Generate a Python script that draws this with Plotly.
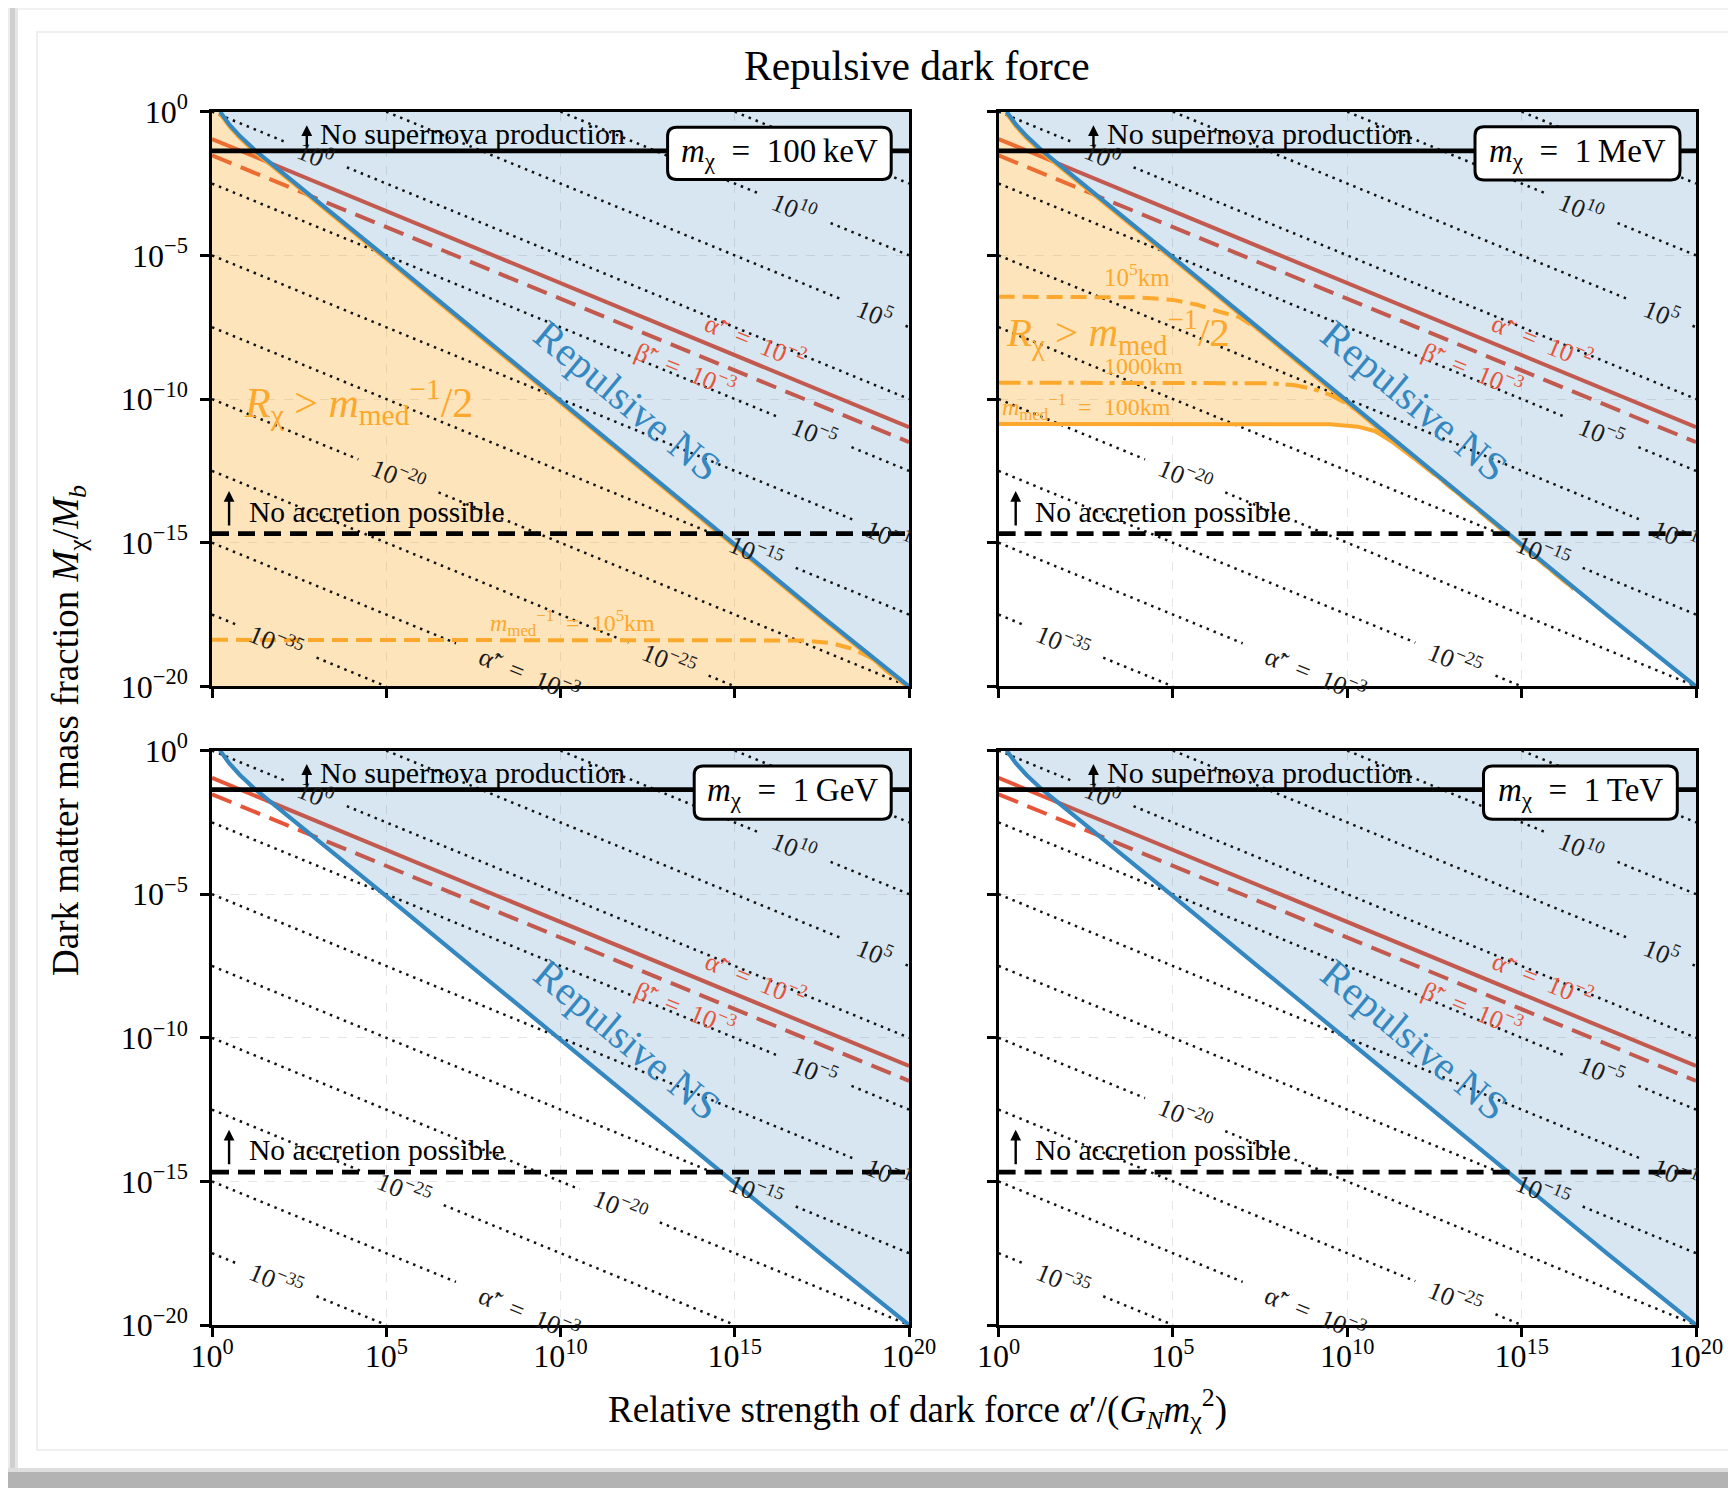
import plotly.graph_objects as go

W, H = 1736, 1488
OFF = 8            # the page body margin shifts the figure by this many pixels
SERIF = "Liberation Serif"

# ---------------- data (all values in log10 units) ----------------
mass_labels = ["100\u2009keV", "1\u2009MeV", "1\u2009GeV", "1\u2009TeV"]
x_tick_exps = [0, 5, 10, 15, 20]
y_tick_exps = [0, -5, -10, -15, -20]

# Repulsive NS boundary
blue_lx = [0.23, 0.5, 0.8, 1.25, 2.0, 3.0, 4.0, 5.0, 7.5, 10.0, 12.5, 15.0, 17.5, 20.0]
blue_ly = [0.0, -0.45, -0.85, -1.36, -2.10, -3.08, -4.07, -5.07, -7.57, -10.07, -12.57, -15.07, -17.56, -20.0]

# alpha' = 1e-2 (solid) and beta' = 1e-3 (dashed) lines
red_alpha_lx = [0, 20]
red_alpha_ly = [-0.95, -10.98]
red_beta_lx = [0, 20]
red_beta_ly = [-1.52, -11.5]

supernova_ly = -1.36
accretion_ly = -14.68

# dotted contours of alpha-tilde' (levels, log10)
contour_levels = [-40, -35, -30, -25, -20, -15, -10, -5, 0, 5, 10, 15, 20]

ALPHA_T = "\u03b1\u0303\u2032"
BETA_T = "\u03b2\u0303\u2032"
EQ = "\u2002=\u2002"

# contour labels: (level, lx centre, text, half gap in lx)
labels_common = [
    (0, 2.97, "10<sup>0</sup>", 0.9),
    (10, 16.7, "10<sup>10</sup>", 1.05),
    (5, 19.0, "10<sup>5</sup>", 0.9),
    (-5, 17.3, "10<sup>\u22125</sup>", 1.05),
    (-10, 19.4, "10<sup>\u22121</sup>", 0.95),
    (-15, 15.6, "10<sup>\u221215</sup>", 1.15),
    (-35, 1.85, "10<sup>\u221235</sup>", 1.15),
    (-30, 9.1, ALPHA_T + EQ + "10<sup>\u22123</sup>", 2.1),
]
labels_std = [(-20, 5.35, "10<sup>\u221220</sup>", 1.15), (-25, 13.1, "10<sup>\u221225</sup>", 1.15)]
labels_gev = [(-25, 5.5, "10<sup>\u221225</sup>", 1.15), (-20, 11.7, "10<sup>\u221220</sup>", 1.15)]
panel_labels = [labels_common + labels_std, labels_common + labels_std,
                labels_common + labels_gev, labels_common + labels_std]

# orange m_med^-1 curves
o100keV_1e5_lx = [0, 17.0, 17.8, 18.4, 18.9, 19.4, 20.0]
o100keV_1e5_ly = [-18.38, -18.40, -18.50, -18.70, -19.0, -19.5, -20.0]

o1MeV_1e5_lx = [0, 4.0, 5.0, 5.7, 6.3, 6.9, 7.5, 10.0, 12.5, 15.0, 16.5]
o1MeV_1e5_ly = [-6.44, -6.46, -6.55, -6.72, -6.95, -7.15, -7.62, -10.11, -12.61, -15.11, -16.61]
o1MeV_1000_lx = [0, 7.8, 8.5, 9.0, 9.5, 10.0, 10.5, 11.0, 12.5, 15.0, 16.5]
o1MeV_1000_ly = [-9.43, -9.45, -9.52, -9.64, -9.85, -10.17, -10.60, -11.10, -12.61, -15.11, -16.61]
o1MeV_100_lx = [0, 9.5, 10.3, 10.8, 11.3, 12.0, 12.6, 13.5, 15.0, 16.5]
o1MeV_100_ly = [-10.87, -10.88, -10.96, -11.12, -11.50, -12.13, -12.70, -13.60, -15.11, -16.61]
merge_lx_1MeV = 12.6

# ---------------- styles ----------------
BLUE = "#3587c0"
BLUE_FILL = "rgba(31,119,180,0.18)"
RED = "#e6553a"
ORANGE = "#fca82c"
ORANGE_FILL = "rgba(252,165,30,0.30)"


def X(px):
    return (px - OFF) / W


def Y(py):
    return 1 - (py - OFF) / H


COLS = [(212, 909), (998.6, 1696)]
ROWS = [(111.7, 686.4), (750.6, 1325)]
XD = [[X(COLS[c][0]), X(COLS[c][1])] for c in (0, 1, 0, 1)]
YD = [[Y(ROWS[r][1]), Y(ROWS[r][0])] for r in (0, 0, 1, 1)]

LINE_ANG = 22.4   # screen angle of slope -1/2 lines
BLUE_ANG = 39.5   # screen angle of slope -1 lines


def p(v):
    return [None if a is None else 10.0 ** a for a in v]


def ax_names(i):
    s = "" if i == 0 else str(i + 1)
    return "x" + s, "y" + s, "xaxis" + s, "yaxis" + s


fig = go.Figure()
annotations = []
shapes = []


def add_line(i, lx, ly, color, width, dash="solid", fill=None, fillcolor=None, mode="lines"):
    xr, yr, _, _ = ax_names(i)
    fig.add_trace(go.Scatter(x=p(lx), y=p(ly), mode=mode, xaxis=xr, yaxis=yr,
                             line=dict(color=color, width=width, dash=dash),
                             fill=fill, fillcolor=fillcolor, hoverinfo="skip",
                             showlegend=False))


def contour_xy(level, gaps):
    lo, hi = max(0.0, level), min(20.0, level + 40.0)
    if hi - lo <= 0:
        return [], []
    segs = [[lo, hi]]
    for c, hw in gaps:
        a, b = c - hw, c + hw
        new = []
        for s0, s1 in segs:
            if b <= s0 or a >= s1:
                new.append([s0, s1])
            else:
                if a > s0:
                    new.append([s0, a])
                if b < s1:
                    new.append([b, s1])
        segs = new
    xs, ys = [], []
    for s0, s1 in segs:
        xs += [s0, s1, None]
        ys += [(level - s0) / 2, (level - s1) / 2, None]
    return xs, ys


for i in range(4):
    xr, yr, xa, ya = ax_names(i)
    # red lines (below the fills so that they get tinted)
    add_line(i, red_alpha_lx, red_alpha_ly, RED, 4)
    add_line(i, red_beta_lx, red_beta_ly, RED, 4, dash="21px,10px")

    # fills
    if i == 0:
        fx = [0] + blue_lx + [20, 0]
        fy = [0] + blue_ly + [-20, -20]
        add_line(i, fx, fy, "rgba(0,0,0,0)", 0, fill="toself", fillcolor=ORANGE_FILL)
    if i == 1:
        bx = [a for a in blue_lx if a < merge_lx_1MeV]
        by = [b for a, b in zip(blue_lx, blue_ly) if a < merge_lx_1MeV]
        sx = [a for a in o1MeV_100_lx if a <= merge_lx_1MeV][::-1]
        sy = [b for a, b in zip(o1MeV_100_lx, o1MeV_100_ly) if a <= merge_lx_1MeV][::-1]
        add_line(i, [0] + bx + sx, [0] + by + sy, "rgba(0,0,0,0)", 0, fill="toself",
                 fillcolor=ORANGE_FILL)
    add_line(i, blue_lx + [20], blue_ly + [0], "rgba(0,0,0,0)", 0, fill="toself",
             fillcolor=BLUE_FILL)

    # contours
    cx, cy = [], []
    gaps_by_level = {}
    for lev, c, txt, hw in panel_labels[i]:
        gaps_by_level.setdefault(lev, []).append((c, hw))
    for lev in contour_levels:
        a, b = contour_xy(lev, gaps_by_level.get(lev, []))
        cx += a
        cy += b
    add_line(i, cx, cy, "#111111", 2.5, dash="2.5px,5px")

    # orange curves
    if i == 0:
        add_line(i, [a for a in blue_lx], [b - 0.05 for b in blue_ly], ORANGE, 4.5)
        add_line(i, o100keV_1e5_lx, o100keV_1e5_ly, ORANGE, 4, dash="16px,8px")
    if i == 1:
        ex = [a for a in blue_lx if a <= merge_lx_1MeV + 0.5]
        ey = [b - 0.05 for a, b in zip(blue_lx, blue_ly) if a <= merge_lx_1MeV + 0.5]
        add_line(i, ex, ey, ORANGE, 4.5)
        add_line(i, o1MeV_1e5_lx, o1MeV_1e5_ly, ORANGE, 4, dash="16px,8px")
        add_line(i, o1MeV_1000_lx, o1MeV_1000_ly, ORANGE, 4, dash="22px,7px,5px,7px")
        add_line(i, o1MeV_100_lx, o1MeV_100_ly, ORANGE, 4)

    # blue boundary
    add_line(i, blue_lx, blue_ly, BLUE, 4.2)

    # black horizontal lines
    add_line(i, [0, 20], [supernova_ly, supernova_ly], "#000000", 4.8)
    add_line(i, [0, 20], [accretion_ly, accretion_ly], "#000000", 4.8, dash="17px,9px")

    # ---- axes ----
    left = i in (0, 2)
    bottom = i in (2, 3)
    common = dict(showline=True, linecolor="#000", linewidth=2.5, mirror=True,
                  ticks="outside", ticklen=9, tickwidth=2.5, tickcolor="#000",
                  tickfont=dict(family=SERIF, size=32, color="#000"),
                  showgrid=True, gridcolor="rgba(0,0,0,0.10)", gridwidth=1,
                  griddash="dash", zeroline=False, automargin=False)
    fig.layout[xa] = dict(type="log", range=[0, 20], domain=XD[i], anchor=yr,
                          tickvals=[10.0 ** e for e in x_tick_exps],
                          ticktext=["10<sup>%d</sup>" % e for e in x_tick_exps],
                          showticklabels=bottom, ticklabelstandoff=-8, **common)
    fig.layout[ya] = dict(type="log", range=[-20, 0], domain=YD[i], anchor=xr,
                          tickvals=[10.0 ** e for e in y_tick_exps],
                          ticktext=["10<sup>%s</sup>" % (str(e).replace("-", "\u2212")) for e in y_tick_exps],
                          showticklabels=left, ticklabelstandoff=6, **common)

    # ---- text ----
    def ann(x, y, text, size, color="#000", angle=0, xanchor="center", yanchor="middle"):
        annotations.append(dict(x=x, y=y, xref=xr, yref=yr, text=text, showarrow=False,
                                textangle=angle, xanchor=xanchor, yanchor=yanchor,
                                font=dict(family=SERIF, size=size, color=color)))

    for lev, c, txt, hw in panel_labels[i]:
        ann(c, (lev - c) / 2, txt, 26, color="#1a1a1a", angle=LINE_ANG)

    ann(3.05, -0.75, "No supernova production", 30, xanchor="left")
    ann(1.0, -13.92, "No accretion possible", 29.5, xanchor="left")
    for (hx, hy, L) in [(2.72, -0.47, 23), (0.49, -13.2, 36)]:
        annotations.append(dict(x=hx, y=hy, xref=xr, yref=yr, ax=0, ay=L, text="",
                                showarrow=True, arrowhead=2, arrowsize=0.9, arrowwidth=2.4,
                                arrowcolor="#000"))
    ann(11.93, -10.07, "Repulsive NS", 41, color=BLUE, angle=BLUE_ANG)
    ann(15.6, -7.95, ALPHA_T + EQ + "10<sup>\u22122</sup>", 26, color=RED, angle=LINE_ANG)
    ann(13.58, -8.95, BETA_T + EQ + "10<sup>\u22123</sup>", 26, color=RED, angle=LINE_ANG)

    if i == 0:
        ann(4.21, -10.1, "<i>R</i><sub>\u03c7</sub> > <i>m</i><sub>med</sub><sup>\u22121</sup>/2", 42, color=ORANGE)
        ann(10.35, -17.8, "<i>m</i><sub>med</sub><sup>\u22121</sup>" + EQ + "10<sup>5</sup>km", 24, color=ORANGE)
    if i == 1:
        ann(3.43, -7.68, "<i>R</i><sub>\u03c7</sub> > <i>m</i><sub>med</sub><sup>\u22121</sup>/2", 41, color=ORANGE)
        ann(3.98, -5.7, "10<sup>5</sup>km", 25, color=ORANGE)
        ann(4.16, -8.86, "1000km", 24, color=ORANGE)
        ann(2.53, -10.27, "<i>m</i><sub>med</sub><sup>\u22121</sup>" + EQ + "100km", 24, color=ORANGE)

# ---- mass boxes (rounded) ----
boxes_px = [(667.6, 127.3, 891.2, 179.4), (1475, 126.7, 1680, 180),
            (694.2, 766, 891.2, 819.2), (1483.5, 766, 1677.3, 819.2)]


def P(px, py):
    return "%.5f,%.5f" % (X(px), Y(py))


for i, (x0, y0, x1, y1) in enumerate(boxes_px):
    r = 9
    path = ("M " + P(x0 + r, y0) + " L " + P(x1 - r, y0) + " Q " + P(x1, y0) + " " + P(x1, y0 + r) +
            " L " + P(x1, y1 - r) + " Q " + P(x1, y1) + " " + P(x1 - r, y1) +
            " L " + P(x0 + r, y1) + " Q " + P(x0, y1) + " " + P(x0, y1 - r) +
            " L " + P(x0, y0 + r) + " Q " + P(x0, y0) + " " + P(x0 + r, y0) + " Z")
    shapes.append(dict(type="path", path=path, xref="paper", yref="paper",
                       line=dict(color="#000", width=3), fillcolor="#fff", layer="above"))
    annotations.append(dict(x=X((x0 + x1) / 2), y=Y((y0 + y1) / 2), xref="paper", yref="paper",
                            text="<i>m</i><sub>\u03c7</sub>" + EQ + mass_labels[i], showarrow=False,
                            xanchor="center", yanchor="middle",
                            font=dict(family=SERIF, size=33, color="#000")))

# ---- titles ----
annotations.append(dict(x=X(917), y=Y(66), xref="paper", yref="paper",
                        text="Repulsive dark force", showarrow=False,
                        xanchor="center", yanchor="middle",
                        font=dict(family=SERIF, size=41.5, color="#000")))
annotations.append(dict(x=X(917), y=Y(1409), xref="paper", yref="paper",
                        text="Relative strength of dark force <i>\u03b1</i>\u2032/(<i>G<sub>N</sub>m</i><sub>\u03c7</sub><sup>2</sup>)",
                        showarrow=False, xanchor="center", yanchor="middle",
                        font=dict(family=SERIF, size=37, color="#000")))
annotations.append(dict(x=X(69), y=Y(731), xref="paper", yref="paper", textangle=-90,
                        text="Dark matter mass fraction <i>M</i><sub>\u03c7</sub>/<i>M<sub>b</sub></i>",
                        showarrow=False, xanchor="center", yanchor="middle",
                        font=dict(family=SERIF, size=37, color="#000")))


# ---- decorative frame ----
def rect(x0, y0, x1, y1, color, line=None):
    d = dict(type="rect", xref="paper", yref="paper", x0=X(x0), x1=X(x1),
             y0=Y(y0), y1=Y(y1), layer="below")
    if line:
        d.update(line=dict(color=color, width=line), fillcolor="rgba(0,0,0,0)")
    else:
        d.update(line=dict(width=0), fillcolor=color)
    return d


shapes += [
    rect(12, 7, W + OFF, 10, "#f1f1f1"),
    rect(8, 8, 10, 1472, "#ececec"),
    rect(10, 8, 15, 1472, "#cfcfcf"),
    rect(15, 8, 18, 1472, "#e6e6e6"),
    rect(8, 1468, W + OFF, 1472, "#dedede"),
    rect(8, 1472, W + OFF, H + OFF, "#b3b3b3"),
    rect(37, 32, W + OFF + 4, 1450, "#efefef", line=2),
]

fig.update_layout(template="none", width=W, height=H, autosize=False,
                  margin=dict(l=0, r=0, t=0, b=0, pad=0),
                  paper_bgcolor="#ffffff", plot_bgcolor="#ffffff", showlegend=False,
                  annotations=annotations, shapes=shapes,
                  font=dict(family=SERIF, color="#000"))

fig.write_html("out.html")
